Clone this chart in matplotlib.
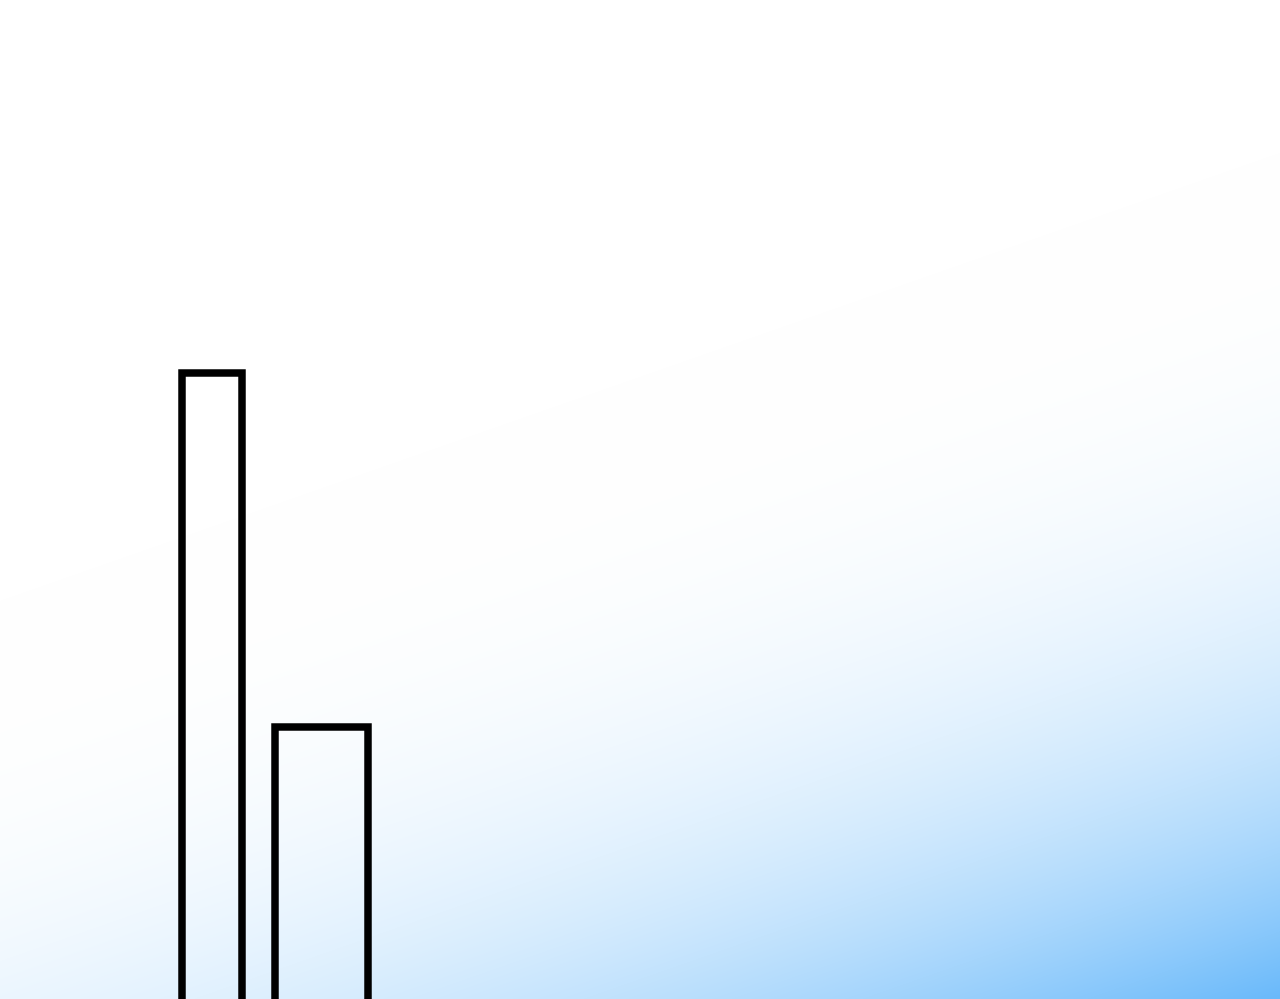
import numpy as np
import matplotlib
matplotlib.use("Agg")
import matplotlib.pyplot as plt
from matplotlib.colors import to_rgb

# ---- data ----
categories = ["A", "B"]
values = [63.3, 27.9]
bar_widths = [0.553, 0.845]

# ---- figure ----
W, H, DPI = 1280, 999, 100
fig = plt.figure(figsize=(W / DPI, H / DPI), dpi=DPI)

# gradient background (white top-left -> blue bottom-right)
bg = fig.add_axes([0, 0, 1, 1], zorder=0)
yy, xx = np.mgrid[0:H, 0:W]
s = yy + 0.35 * xx
s0, s1 = 600.0, H - 1 + 0.35 * (W - 1)
t = np.clip((s - s0) / (s1 - s0), 0, 1) ** 2.7
c0 = np.array(to_rgb("#ffffff"))
c1 = np.array([105, 185, 250]) / 255.0
img = c0[None, None, :] * (1 - t[..., None]) + c1[None, None, :] * t[..., None]
bg.imshow(img, aspect="auto", interpolation="bilinear")
bg.set_axis_off()

# bars
ax = fig.add_axes([0, 0, 1, 1], zorder=1)
ax.patch.set_alpha(0)
x = np.arange(len(categories))
ax.bar(x, values, width=bar_widths, facecolor="none", edgecolor="black",
       linewidth=7.5 * 72 / DPI)
ax.set_xlim(-1.938, 9.751)
ax.set_ylim(0.7, 100.6)
ax.set_axis_off()

fig.savefig("out.png", dpi=DPI)
